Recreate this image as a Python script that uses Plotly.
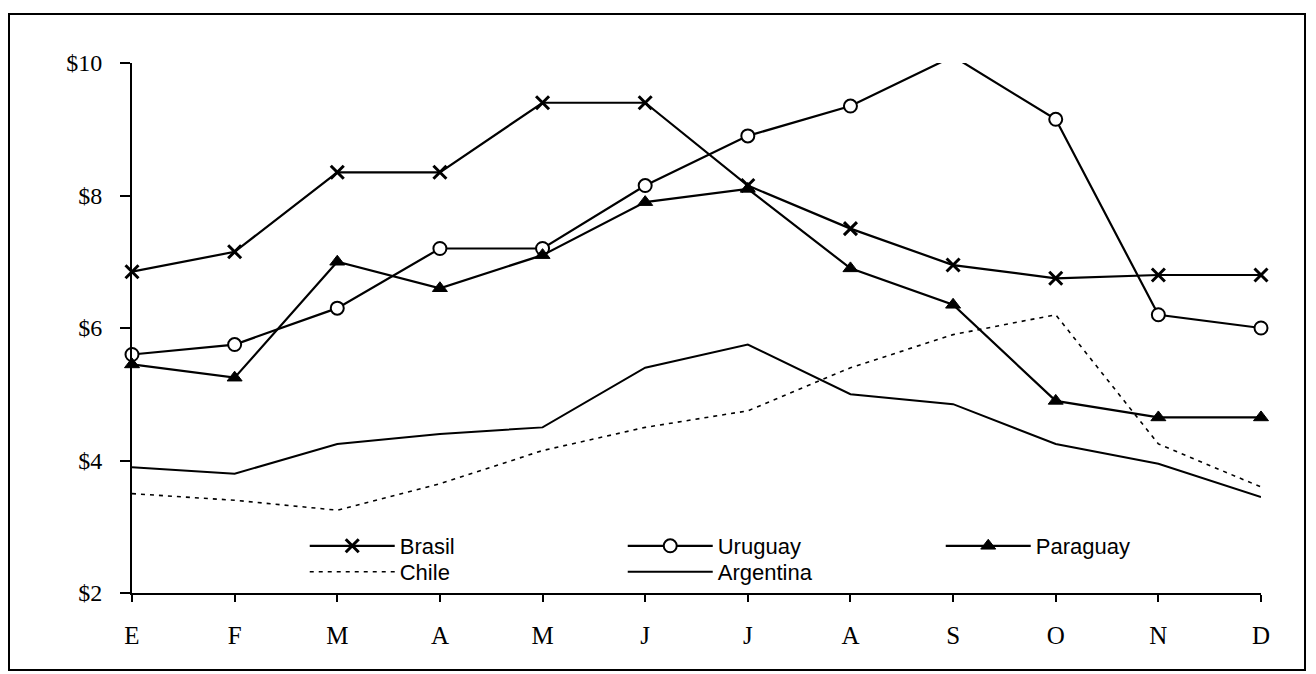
import plotly.graph_objects as go

months = ["E", "F", "M", "A", "M", "J", "J", "A", "S", "O", "N", "D"]
brasil = [6.85, 7.15, 8.35, 8.35, 9.4, 9.4, 8.15, 7.5, 6.95, 6.75, 6.8, 6.8]
uruguay = [5.6, 5.75, 6.3, 7.2, 7.2, 8.15, 8.9, 9.35, 10.1, 9.15, 6.2, 6.0]
paraguay = [5.45, 5.25, 7.0, 6.6, 7.1, 7.9, 8.1, 6.9, 6.35, 4.9, 4.65, 4.65]
chile = [3.5, 3.4, 3.25, 3.65, 4.15, 4.5, 4.75, 5.4, 5.9, 6.2, 4.25, 3.6]
argentina = [3.9, 3.8, 4.25, 4.4, 4.5, 5.4, 5.75, 5.0, 4.85, 4.25, 3.95, 3.45]
ytick_vals = [2, 4, 6, 8, 10]
ytick_text = ["$2", "$4", "$6", "$8", "$10"]

xs = list(range(len(months)))
black = "#000000"

# plot-area geometry in figure pixels
ML, MT, PW, PH = 124, 55, 1129, 530
FW, FH = 1316, 674

fig = go.Figure()
fig.add_trace(go.Scatter(
    x=xs, y=brasil, name="Brasil", mode="lines+markers", legend="legend",
    line=dict(color=black, width=2.2),
    marker=dict(symbol="x-thin", size=13, line=dict(color=black, width=3), color=black),
    cliponaxis=False))
fig.add_trace(go.Scatter(
    x=xs, y=uruguay, name="Uruguay", mode="lines+markers", legend="legend",
    line=dict(color=black, width=2.2),
    marker=dict(symbol="circle", size=13, color="white", line=dict(color=black, width=2)),
    cliponaxis=False))
fig.add_trace(go.Scatter(
    x=xs, y=paraguay, name="Paraguay", mode="lines+markers", legend="legend",
    line=dict(color=black, width=2.2),
    marker=dict(symbol="triangle-up", size=13, color=black, line=dict(color=black, width=1)),
    cliponaxis=False))
fig.add_trace(go.Scatter(
    x=xs, y=chile, name="Chile", mode="lines", legend="legend2",
    line=dict(color=black, width=1.6, dash="4px,5px"),
    cliponaxis=False))
fig.add_trace(go.Scatter(
    x=xs, y=argentina, name="Argentina", mode="lines", legend="legend2",
    line=dict(color=black, width=2),
    cliponaxis=False))

# outer frame around the chart
fig.add_shape(type="rect", xref="paper", yref="paper",
              x0=(1 - ML) / PW, x1=(1297 - ML) / PW,
              y0=(MT + PH - 662) / PH, y1=(MT + PH - 6) / PH,
              line=dict(color=black, width=2), fillcolor="rgba(0,0,0,0)", layer="above")

legend_common = dict(
    orientation="h", x=0.153, xanchor="left", yanchor="middle",
    entrywidth=218, itemwidth=85, bgcolor="rgba(0,0,0,0)",
    font=dict(family="Liberation Sans", size=22, color=black))

fig.update_layout(
    width=FW, height=FH,
    margin=dict(l=ML, r=FW - ML - PW, t=MT, b=FH - MT - PH),
    paper_bgcolor="white", plot_bgcolor="white",
    font=dict(family="Liberation Serif", size=22, color=black),
    showlegend=True,
    legend=dict(y=(MT + PH - 538) / PH, **legend_common),
    legend2=dict(y=(MT + PH - 564) / PH, **legend_common),
    xaxis=dict(
        range=[0, 11], tickmode="array", tickvals=xs, ticktext=months,
        showgrid=False, zeroline=False, showline=True, linecolor=black, linewidth=2,
        ticks="outside", ticklen=7, tickwidth=2, tickcolor=black,
        ticklabelstandoff=12, tickfont=dict(family="Liberation Serif", size=25)),
    yaxis=dict(
        range=[2, 10], tickmode="array", tickvals=ytick_vals, ticktext=ytick_text,
        showgrid=False, zeroline=False, showline=True, linecolor=black, linewidth=2,
        ticks="outside", ticklen=10, tickwidth=2, tickcolor=black,
        ticklabelstandoff=13, tickfont=dict(family="Liberation Serif", size=24)),
)

fig.write_html("out.html")
